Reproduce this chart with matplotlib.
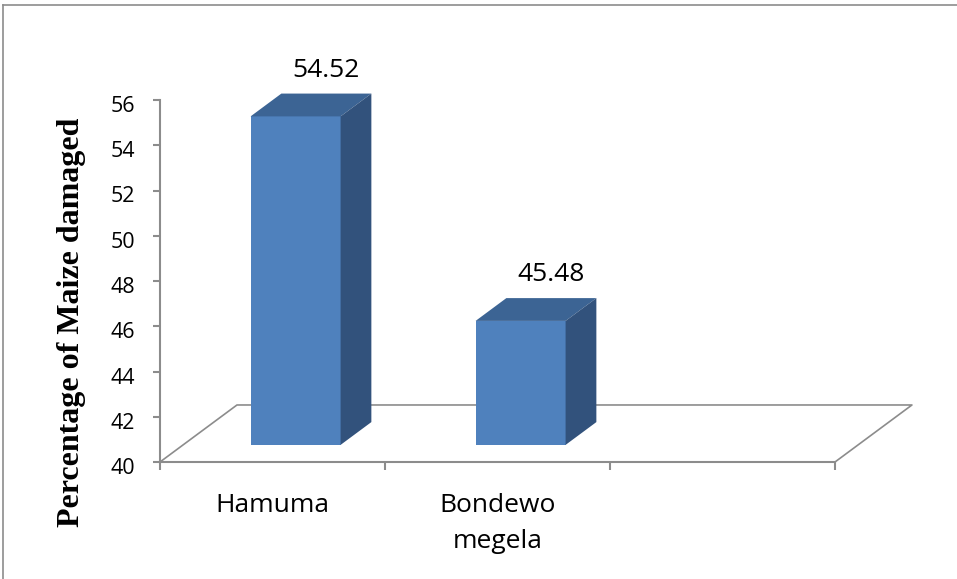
import matplotlib
matplotlib.use("Agg")
import matplotlib.pyplot as plt
import matplotlib.transforms as mtransforms
from matplotlib.patches import Polygon
from matplotlib.lines import Line2D

# data
categories = ["Hamuma", "Bondewo\nmegela", ""]
damage = [54.52, 45.48]
y_ticks = [40, 42, 44, 46, 48, 50, 52, 54, 56]
y_label = "Percentage of Maize damaged"

# colours
front_c = "#4F81BD"
top_c = "#3C6494"
side_c = "#32527C"
gray = "#8C8C8C"

W, H = 957, 579
fig = plt.figure(figsize=(W / 100, H / 100), dpi=100)
ax = fig.add_axes([160 / W, (H - 462) / H, 675 / W, 362 / H])
ax.set_xlim(0, len(categories))
ax.set_ylim(y_ticks[0], y_ticks[-1])

# 3d look: floor depth and bar geometry (in data units)
floor_dx, floor_dy = 0.342, 2.52
bar_w = 0.4
bar_front = 0.3
bar_depth = 0.4
base = y_ticks[0]

n = len(categories)
ax.plot([0, floor_dx, n + floor_dx, n], [base, base + floor_dy, base + floor_dy, base],
        color=gray, lw=1.2, clip_on=False, zorder=1)

ddx, ddy = bar_depth * floor_dx, bar_depth * floor_dy
for i, v in enumerate(damage):
    cx = i + 0.5 + bar_front * floor_dx
    bx = cx - bar_w / 2
    by = base + bar_front * floor_dy
    ty = by + (v - base)
    ax.add_patch(Polygon([(bx, by), (bx + bar_w, by), (bx + bar_w, ty), (bx, ty)],
                         closed=True, fc=front_c, ec="none", clip_on=False, zorder=3))
    ax.add_patch(Polygon([(bx, ty), (bx + bar_w, ty), (bx + bar_w + ddx, ty + ddy), (bx + ddx, ty + ddy)],
                         closed=True, fc=top_c, ec="none", clip_on=False, zorder=3))
    ax.add_patch(Polygon([(bx + bar_w, by), (bx + bar_w + ddx, by + ddy), (bx + bar_w + ddx, ty + ddy), (bx + bar_w, ty)],
                         closed=True, fc=side_c, ec="none", clip_on=False, zorder=3))
    ax.text(cx + ddx, ty + ddy + 0.75, f"{v:.2f}", ha="center", va="baseline",
            fontsize=19, family="Open Sans", color="black", clip_on=False)

for s in ["top", "right"]:
    ax.spines[s].set_visible(False)
for s in ["left", "bottom"]:
    ax.spines[s].set_color(gray)
    ax.spines[s].set_linewidth(1.5)

ax.set_yticks(y_ticks)
ax.set_yticklabels([str(t) for t in y_ticks], family="Open Sans", fontsize=15.5)
ax.tick_params(axis="y", length=5, width=1.5, color=gray, pad=13)
off = mtransforms.ScaledTranslation(0, -4 / 100, fig.dpi_scale_trans)
for lab in ax.get_yticklabels():
    lab.set_transform(lab.get_transform() + off)

ax.set_xticks(range(n + 1))
ax.set_xticklabels([""] * (n + 1))
ax.tick_params(axis="x", which="major", length=6, width=1.5, color=gray)
ax.set_xticks([i + 0.5 for i in range(n)], minor=True)
ax.set_xticklabels(categories, minor=True, family="Open Sans", fontsize=19, linespacing=1.58)
ax.tick_params(axis="x", which="minor", length=0, pad=22)

fig.text(72 / W, 1 - 322 / H, y_label, rotation=90, ha="center", va="center",
         fontsize=23, fontweight="bold", family="Liberation Serif")

# outer frame
fig.add_artist(Line2D([3 / W, 3 / W], [0, 1 - 5 / H], color=gray, lw=1.2))
fig.add_artist(Line2D([3 / W, 1], [1 - 5 / H, 1 - 5 / H], color=gray, lw=1.2))

fig.savefig("out.png", dpi=100)
